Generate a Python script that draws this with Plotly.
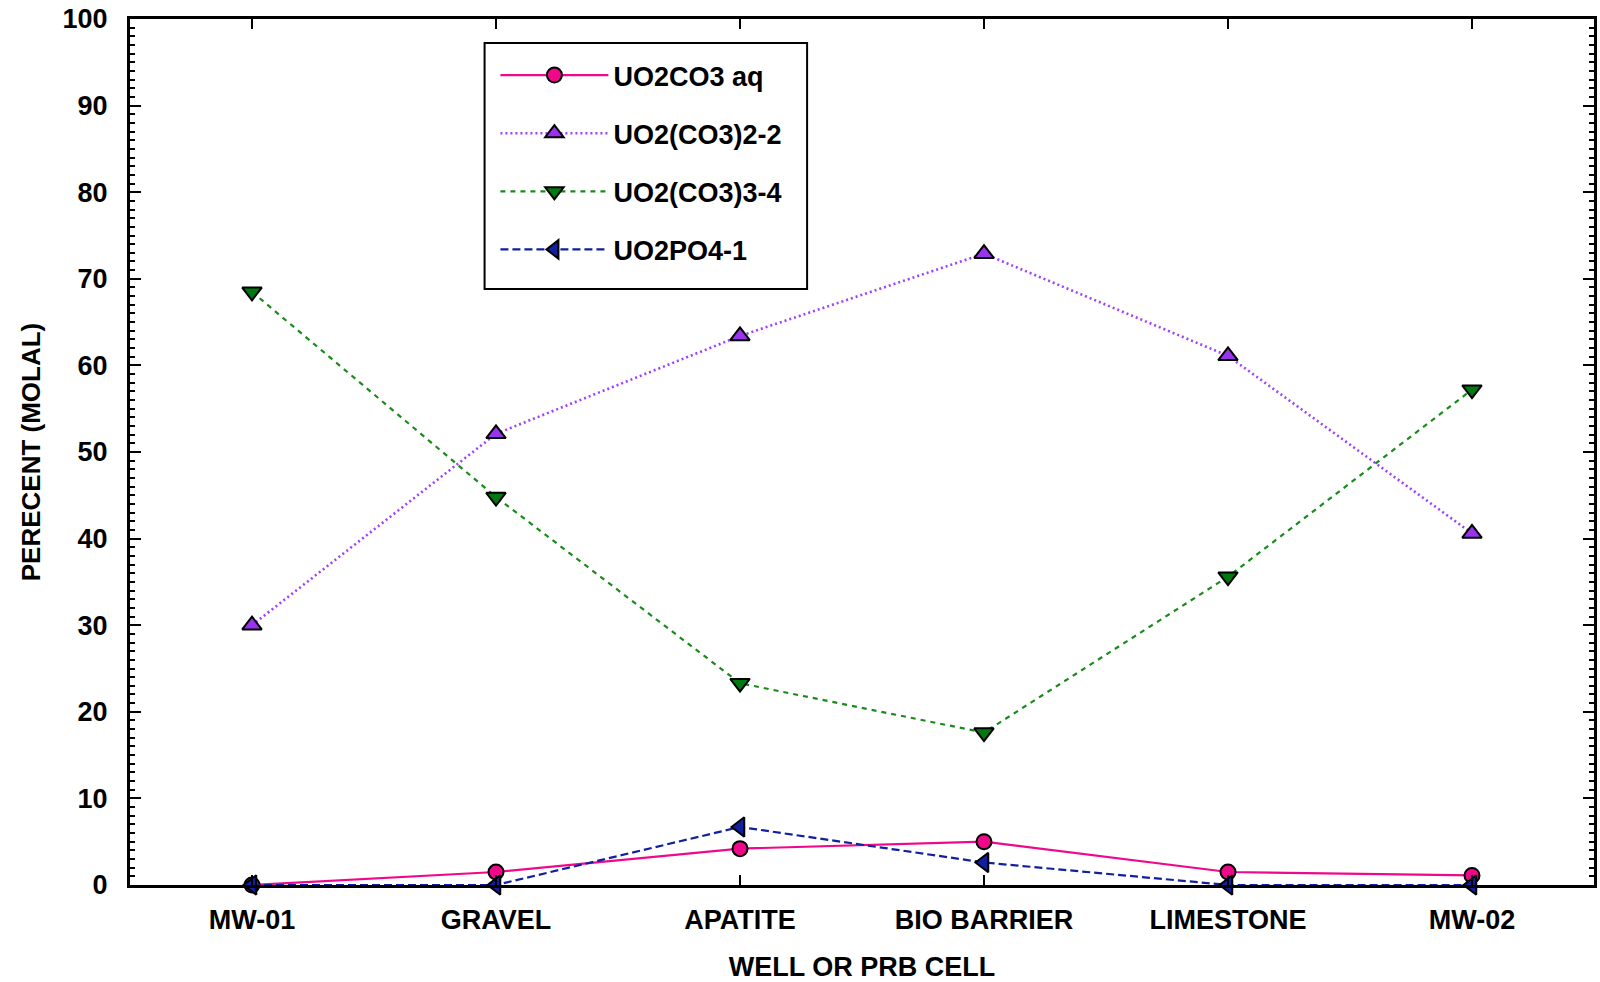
import plotly.graph_objects as go

categories = ["MW-01", "GRAVEL", "APATITE", "BIO BARRIER", "LIMESTONE", "MW-02"]
uo2co3_aq = [0.0, 1.5, 4.2, 5.0, 1.5, 1.1]
uo2_co3_2 = [30.0, 52.1, 63.4, 72.9, 61.1, 40.6]
uo2_co3_3 = [68.5, 44.8, 23.3, 17.6, 35.6, 57.2]
uo2po4 = [0.0, 0.0, 6.7, 2.6, 0.0, 0.0]
y_ticks = list(range(0, 101, 10))

FONT = "Liberation Sans, Arial, sans-serif"

fig = go.Figure()

series = [
    ("UO2CO3 aq", uo2co3_aq, "#F0088A", "#F0088A", "solid", 2.2, "circle", 15),
    ("UO2(CO3)2-2", uo2_co3_2, "#A040FF", "#9933EE", "2px,3px", 2.6, "triangle-up", 17),
    ("UO2(CO3)3-4", uo2_co3_3, "#1A8A1A", "#007A10", "5px,5px", 2.2, "triangle-down", 17),
    ("UO2PO4-1", uo2po4, "#1020A0", "#1020A0", "8px,4px", 2.2, "triangle-left", 17),
]

for i, (name, vals, lc, fc, dash, lw, sym, ms) in enumerate(series):
    fig.add_trace(go.Scatter(
        x=categories, y=vals, name=name, mode="lines+markers",
        legendgroup=f"g{i}",
        line=dict(color=lc, dash=dash, width=lw),
        marker=dict(symbol=sym, size=ms, color=fc, line=dict(color="black", width=2)),
        cliponaxis=False,
    ))

# legend frame (decoration, paper coordinates)
fig.add_shape(type="rect", xref="paper", yref="paper",
              x0=0.2422, x1=0.4625, y0=0.6882, y1=0.9723,
              line=dict(color="black", width=2), fillcolor="white", layer="below")

fig.update_layout(
    width=1600, height=982,
    margin=dict(l=130, r=3, t=19, b=97),
    paper_bgcolor="white", plot_bgcolor="white",
    font=dict(family=FONT, size=27, color="black", weight="bold"),
    showlegend=True,
    legend=dict(
        x=0.2496, y=0.963, xanchor="left", yanchor="top",
        bgcolor="rgba(0,0,0,0)", borderwidth=0,
        font=dict(family=FONT, size=27, color="black", weight="bold"),
        tracegroupgap=20, itemwidth=108,
    ),
)

fig.update_xaxes(
    type="category", range=[-0.5, 5.5],
    showline=True, linecolor="black", linewidth=3, mirror="allticks",
    ticks="inside", ticklen=10, tickwidth=2, tickcolor="black",
    showgrid=False, zeroline=False,
    ticklabelstandoff=9,
    tickfont=dict(family=FONT, size=27, color="black", weight="bold"),
    title=dict(text="WELL OR PRB CELL", standoff=23,
               font=dict(family=FONT, size=27, color="black", weight="bold")),
)

fig.update_yaxes(
    range=[0, 100], tickvals=y_ticks,
    showline=True, linecolor="black", linewidth=3, mirror="allticks",
    ticks="inside", ticklen=11, tickwidth=2, tickcolor="black",
    minor=dict(dtick=1, ticks="inside", ticklen=5, tickwidth=2, tickcolor="black", showgrid=False),
    showgrid=False, zeroline=False,
    ticklabelstandoff=14,
    tickfont=dict(family=FONT, size=27, color="black", weight="bold"),
    title=dict(text="PERECENT (MOLAL)", standoff=15,
               font=dict(family=FONT, size=26, color="black", weight="bold")),
)

fig.write_html("out.html")
